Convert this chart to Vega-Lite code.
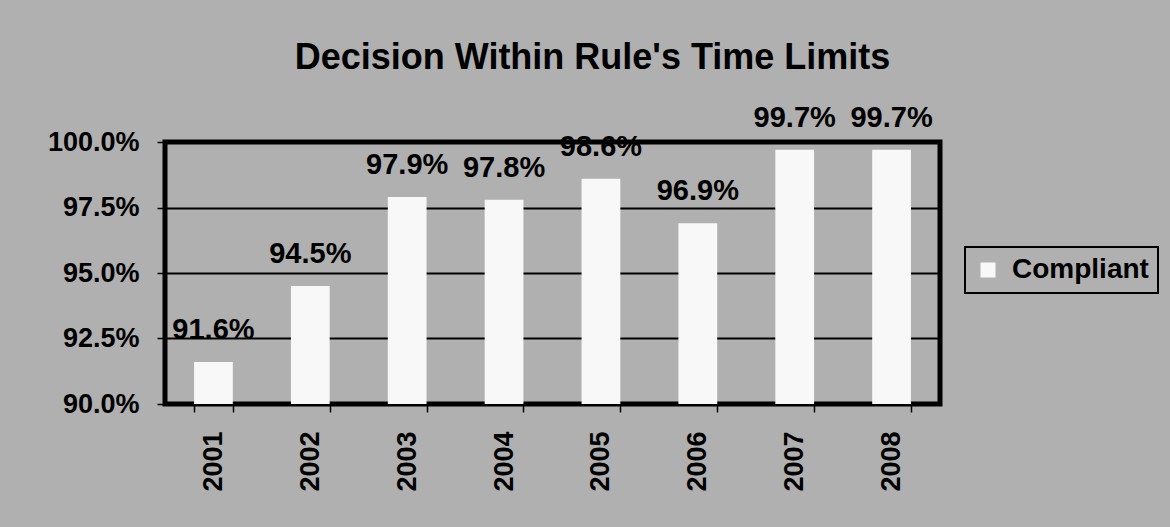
{
  "$schema": "https://vega.github.io/schema/vega-lite/v6.json",
  "width": 775,
  "height": 262,
  "autosize": {"type": "none"},
  "padding": {"left": 165, "top": 142, "right": 230, "bottom": 123},
  "background": "#b0b0b0",
  "title": {
    "text": "Decision Within Rule's Time Limits",
    "fontSize": 36,
    "font": "Liberation Sans",
    "fontWeight": "bold",
    "color": "black",
    "anchor": "middle",
    "frame": "group",
    "dx": 40,
    "offset": 27
  },
  "config": {
    "view": {"stroke": "black", "strokeWidth": 5, "fill": "#b0b0b0"},
    "font": "Liberation Sans"
  },
  "data": {
    "values": [
      {"year": "2001", "value": 0.916},
      {"year": "2002", "value": 0.945},
      {"year": "2003", "value": 0.979},
      {"year": "2004", "value": 0.978},
      {"year": "2005", "value": 0.986},
      {"year": "2006", "value": 0.969},
      {"year": "2007", "value": 0.997},
      {"year": "2008", "value": 0.997}
    ]
  },
  "encoding": {
    "x": {
      "field": "year",
      "type": "nominal",
      "scale": {"paddingInner": 0.6, "paddingOuter": 0.3},
      "axis": {
        "title": null,
        "labelAngle": -90,
        "labelFontSize": 27,
        "labelFont": "Liberation Sans",
        "labelFontWeight": "bold",
        "labelColor": "black",
        "tickBand": "extent",
        "tickSize": 8,
        "tickColor": "black",
        "tickWidth": 1.5,
        "domain": false,
        "labelPadding": 19,
        "grid": false
      }
    },
    "y": {
      "field": "value",
      "type": "quantitative",
      "scale": {"domain": [0.9, 1.0], "zero": false, "nice": false},
      "axis": {
        "title": null,
        "values": [0.9, 0.925, 0.95, 0.975, 1.0],
        "format": ".1%",
        "grid": true,
        "gridColor": "black",
        "gridWidth": 2,
        "gridOpacity": 1,
        "tickSize": 8,
        "tickColor": "black",
        "tickWidth": 1.5,
        "labelPadding": 18,
        "labelFontSize": 27,
        "labelFont": "Liberation Sans",
        "labelFontWeight": "bold",
        "labelColor": "black",
        "domain": false
      }
    }
  },
  "layer": [
    {
      "mark": {"type": "bar"},
      "encoding": {
        "y2": {"datum": 0.9},
        "color": {
          "datum": "Compliant",
          "scale": {"range": ["#f8f8f8"]},
          "legend": {
            "title": null,
            "orient": "none",
            "legendX": 800,
            "legendY": 105,
            "strokeColor": "black",
            "padding": 9,
            "symbolType": "square",
            "symbolSize": 225,
            "symbolStrokeWidth": 0,
            "labelFontSize": 28,
            "labelFont": "Liberation Sans",
            "labelFontWeight": "bold",
            "labelColor": "black",
            "labelOffset": 10,
            "encode": {"legend": {"update": {"strokeWidth": {"value": 2}}}}
          }
        }
      }
    },
    {
      "mark": {
        "type": "text",
        "dy": -23,
        "baseline": "alphabetic",
        "fontSize": 29,
        "font": "Liberation Sans",
        "fontWeight": "bold",
        "color": "black"
      },
      "encoding": {
        "text": {"field": "value", "type": "quantitative", "format": ".1%"}
      }
    }
  ]
}
